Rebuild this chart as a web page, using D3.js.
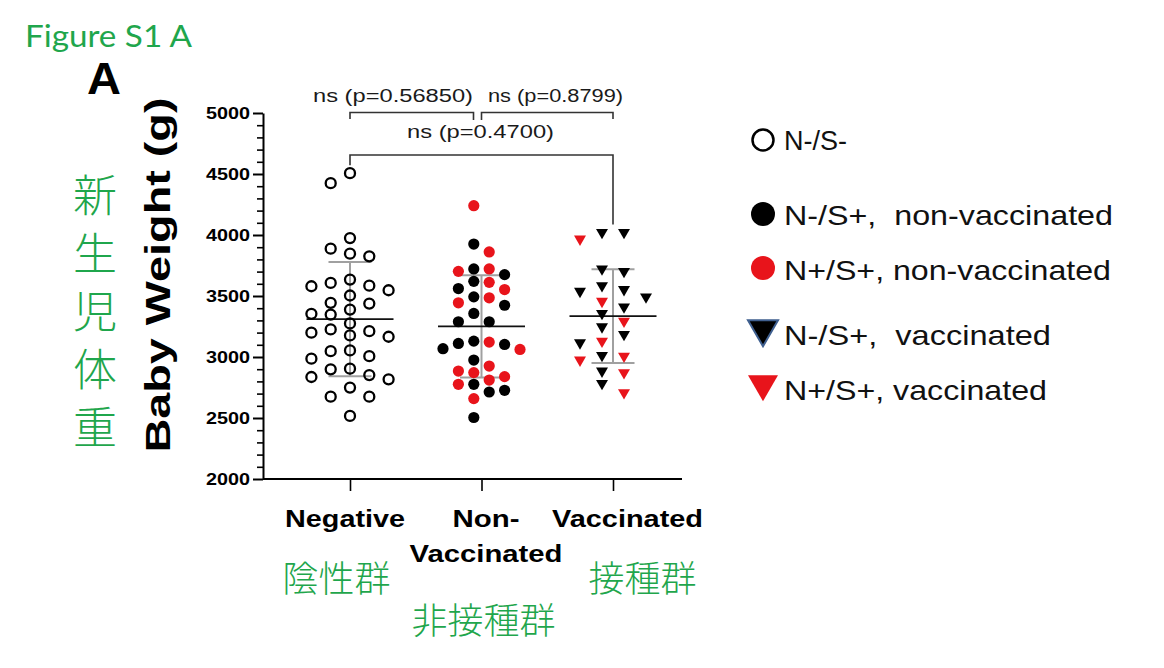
<!DOCTYPE html>
<html><head><meta charset="utf-8">
<script src="https://cdn.jsdelivr.net/npm/d3@7"></script>
<style>html,body{margin:0;padding:0;background:#fff;} svg{display:block}</style>
</head><body><svg id="chart" width="1164" height="668"></svg>
<script>
// ---------------- DATA ----------------
const categories = ["Negative", "Non-Vaccinated", "Vaccinated"];
const categoryLines = [["Negative"], ["Non-", "Vaccinated"], ["Vaccinated"]];
const jpCategories = ["陰性群", "非接種群", "接種群"];
const jpYLabel = "新生児体重";
const yLabel = "Baby Weight (g)";
const yTicks = [2000, 2500, 3000, 3500, 4000, 4500, 5000];
// N-/S- (open circles)
const negative = [4507, 4425, 3975, 3888, 3847, 3825, 3635, 3607, 3585, 3580, 3547, 3504,
  3444, 3438, 3389, 3354, 3348, 3275, 3226, 3212, 3199, 3177, 3166, 3054, 3048, 3007,
  2986, 2904, 2899, 2852, 2836, 2817, 2749, 2675, 2675, 2517];
// N-/S+, non-vaccinated (black circles)
const nonVaxNeg = [3926, 3722, 3675, 3620, 3561, 3493, 3424, 3357, 3289, 3289, 3130, 3111,
  3103, 3068, 2975, 2776, 2727, 2713, 2504];
// N+/S+, non-vaccinated (red circles)
const nonVaxPos = [4240, 3861, 3722, 3702, 3612, 3553, 3485, 3444, 3122, 3062, 2926, 2885,
  2872, 2839, 2811, 2776, 2659];
// N-/S+, vaccinated (black triangles)
const vaxNeg = [4021, 4021, 3722, 3702, 3585, 3553, 3539, 3493, 3411, 3357, 3248, 3185,
  3117, 3013, 2885, 2784];
// N+/S+, vaccinated (red triangles)
const vaxPos = [3967, 3457, 3294, 3130, 3007, 2975, 2872, 2708];
const pLabels = ["ns (p=0.56850)", "ns (p=0.8799)", "ns (p=0.4700)"];
const legendLabels = ["N-/S-", "N-/S+,  non-vaccinated", "N+/S+, non-vaccinated",
  "N-/S+,  vaccinated", "N+/S+, vaccinated"];

// ---------------- STYLE / LAYOUT ----------------
const RED = "#e8141b";
const GREEN = "#1fa64c";
const ARIAL = "'Liberation Sans', Arial, sans-serif";
const CJK = "'Noto Sans CJK JP', 'Noto Sans CJK SC', sans-serif";

const svg = d3.select("#chart");
const y = d3.scaleLinear().domain([2000, 5000]).range([479, 113]);
const x = d3.scalePoint().domain(categories).range([350, 613]);
const axisX = 263, axisXEnd = 682;

// Title
svg.append("text").attr("x", 25).attr("y", 47).text("Figure S1 A")
  .attr("font-family", "Lato, 'Open Sans', sans-serif").attr("font-size", 31)
  .attr("fill", GREEN).attr("textLength", 167).attr("lengthAdjust", "spacingAndGlyphs");
svg.append("text").attr("x", 87).attr("y", 94).text("A")
  .attr("font-family", ARIAL).attr("font-weight", "bold").attr("font-size", 44)
  .attr("textLength", 34).attr("lengthAdjust", "spacingAndGlyphs");

// Vertical Japanese y label
const jpY = svg.append("text").attr("font-family", CJK).attr("font-weight", 300)
  .attr("font-size", 44).attr("fill", GREEN).attr("text-anchor", "middle");
jpY.selectAll("tspan").data(Array.from(jpYLabel)).join("tspan")
  .attr("x", 95).attr("y", (d, i) => 212 + i * 58).text(d => d);

// Y axis (major)
const gy = svg.append("g").attr("transform", `translate(${axisX},0)`)
  .call(d3.axisLeft(y).tickValues(yTicks).tickSize(10).tickSizeOuter(0).tickPadding(3)
    .tickFormat(d3.format("d")));
gy.select(".domain").attr("stroke-width", 2);
gy.selectAll(".tick line").attr("stroke-width", 2);
gy.selectAll(".tick text").attr("font-family", ARIAL).attr("font-weight", "bold")
  .attr("font-size", 17).attr("textLength", 44).attr("lengthAdjust", "spacingAndGlyphs");
// minor ticks
const minor = d3.range(2000, 5001, 100).filter(v => v % 500 !== 0);
const gym = svg.append("g").attr("transform", `translate(${axisX},0)`)
  .call(d3.axisLeft(y).tickValues(minor).tickSize(6).tickFormat(""));
gym.select(".domain").remove();
gym.selectAll(".tick line").attr("stroke-width", 1.6);

// Y label
svg.append("text").attr("transform", "translate(170,275) rotate(-90)")
  .attr("text-anchor", "middle").attr("font-family", ARIAL).attr("font-weight", "bold")
  .attr("font-size", 35).attr("textLength", 355).attr("lengthAdjust", "spacingAndGlyphs")
  .text(yLabel);

// X axis
const gx = svg.append("g").attr("transform", "translate(0,479)")
  .call(d3.axisBottom(x).tickSize(12).tickSizeOuter(0).tickFormat(""));
gx.select(".domain").attr("d", `M${axisX},0H${axisXEnd}`).attr("stroke-width", 2);
gx.selectAll(".tick line").attr("stroke-width", 1.6);

// Category labels
const catDx = [-5, 4.5, 14.5];
const catLen = [[120], [67, 153], [151]];
categories.forEach((c, i) => {
  categoryLines[i].forEach((line, j) => {
    svg.append("text").attr("x", x(c) + catDx[i]).attr("y", 527 + j * 35)
      .attr("text-anchor", "middle").attr("font-family", ARIAL).attr("font-weight", "bold")
      .attr("font-size", 24).attr("textLength", catLen[i][j]).attr("lengthAdjust", "spacingAndGlyphs")
      .text(line);
  });
});
const jpPos = [[336.5, 592], [483.5, 634], [642.5, 592]];
jpCategories.forEach((t, i) => {
  svg.append("text").attr("x", jpPos[i][0]).attr("y", jpPos[i][1]).attr("text-anchor", "middle")
    .attr("font-family", CJK).attr("font-weight", 300).attr("font-size", 36)
    .attr("fill", GREEN).text(t);
});

// ---------------- POINTS ----------------
function swarm(points, cx, spacing, minDy, half) {
  const slots = half ? [-0.5, 0.5, -1.5, 1.5, -2.5, 2.5, -3.5, 3.5]
                     : [0, -1, 1, -2, 2, -3, 3];
  const placed = [];
  points.slice().sort((a, b) => b.v - a.v).forEach(p => {
    const py = y(p.v);
    let s = slots.find(k => !placed.some(q => q.slot === k && Math.abs(q.py - py) < minDy));
    if (s === undefined) s = slots[slots.length - 1];
    placed.push(Object.assign({}, p, { slot: s, py, px: cx + s * spacing }));
  });
  return placed;
}

const groups = [
  { cat: "Negative", pts: negative.map(v => ({ v, kind: "open" })), spacing: 19.3, minDy: 11, half: false },
  { cat: "Non-Vaccinated", pts: nonVaxNeg.map(v => ({ v, kind: "black" })).concat(nonVaxPos.map(v => ({ v, kind: "red" }))), spacing: 15.4, minDy: 11, half: true },
  { cat: "Vaccinated", pts: vaxNeg.map(v => ({ v, kind: "btri" })).concat(vaxPos.map(v => ({ v, kind: "rtri" }))), spacing: 22, minDy: 12, half: true }
];

const gLines = svg.append("g");
const gPts = svg.append("g");
const tri = d3.symbol(d3.symbolTriangle, 62)();
groups.forEach(gr => {
  const cx = x(gr.cat);
  const vals = gr.pts.map(p => p.v);
  const m = d3.mean(vals), sd = d3.deviation(vals);
  // SD
  gLines.append("line").attr("x1", cx).attr("x2", cx).attr("y1", y(m + sd)).attr("y2", y(m - sd))
    .attr("stroke", "#a0a0a0").attr("stroke-width", 2);
  [m + sd, m - sd].forEach(v => gLines.append("line").attr("x1", cx - 21.5).attr("x2", cx + 21.5)
    .attr("y1", y(v)).attr("y2", y(v)).attr("stroke", "#a0a0a0").attr("stroke-width", 2));
  // mean
  gLines.append("line").attr("x1", cx - 43.5).attr("x2", cx + 43.5).attr("y1", y(m)).attr("y2", y(m))
    .attr("stroke", "#111").attr("stroke-width", 1.6);

  const placed = swarm(gr.pts, cx, gr.spacing, gr.minDy, gr.half);
  placed.forEach(p => {
    if (p.kind === "open") {
      gPts.append("circle").attr("cx", p.px).attr("cy", p.py).attr("r", 5)
        .attr("fill", "none").attr("stroke", "#000").attr("stroke-width", 2.3);
    } else if (p.kind === "black" || p.kind === "red") {
      gPts.append("circle").attr("cx", p.px).attr("cy", p.py).attr("r", 5.6)
        .attr("fill", p.kind === "red" ? RED : "#000");
    } else {
      gPts.append("path").attr("d", tri)
        .attr("transform", `translate(${p.px},${p.py}) rotate(180)`)
        .attr("fill", p.kind === "rtri" ? RED : "#000");
    }
  });
  gr.max = d3.max(vals);
});

// ---------------- SIGNIFICANCE BRACKETS ----------------
const ann = svg.append("g").attr("stroke", "#333").attr("stroke-width", 1.6).attr("fill", "none");
const xN = x("Negative"), xNV = x("Non-Vaccinated"), xV = x("Vaccinated");
ann.append("path").attr("d", `M${xN},119V112.5H${xNV - 8}V120`);
ann.append("path").attr("d", `M${xNV},120V112.5H${xV}V119`);
ann.append("path").attr("d", `M${xN},${y(groups[0].max) - 8}V155H${xV}V${y(groups[2].max) - 8}`);
const pPos = [[313, 101.7, 160], [488, 101.7, 135], [407, 138.3, 147]];
pLabels.forEach((t, i) => {
  svg.append("text").attr("x", pPos[i][0]).attr("y", pPos[i][1]).text(t)
    .attr("font-family", ARIAL).attr("font-size", 18).attr("fill", "#1a1a1a")
    .attr("textLength", pPos[i][2]).attr("lengthAdjust", "spacingAndGlyphs");
});

// ---------------- LEGEND ----------------
const legendMarkY = [140, 214, 268, 329, 384];
const legendTextY = [150, 225, 280, 345, 400];
const legendLen = [63, 329, 327, 267, 263];
const bigTri = d3.symbol(d3.symbolTriangle, 390)();
legendLabels.forEach((t, i) => {
  if (i === 0) {
    svg.append("circle").attr("cx", 763).attr("cy", legendMarkY[i]).attr("r", 10.5)
      .attr("fill", "#fff").attr("stroke", "#000").attr("stroke-width", 2.5);
  } else if (i <= 2) {
    svg.append("circle").attr("cx", 763).attr("cy", legendMarkY[i]).attr("r", 12)
      .attr("fill", i === 2 ? RED : "#000");
  } else {
    svg.append("path").attr("d", bigTri)
      .attr("transform", `translate(763,${legendMarkY[i]}) rotate(180)`)
      .attr("fill", i === 4 ? RED : "#000")
      .attr("stroke", i === 3 ? "#3f5f8f" : "none").attr("stroke-width", 2);
  }
  svg.append("text").attr("x", 784).attr("y", legendTextY[i]).text(t)
    .style("white-space", "pre")
    .attr("font-family", ARIAL).attr("font-size", 28).attr("fill", "#111")
    .attr("textLength", legendLen[i]).attr("lengthAdjust", "spacingAndGlyphs");
});
</script></body></html>
